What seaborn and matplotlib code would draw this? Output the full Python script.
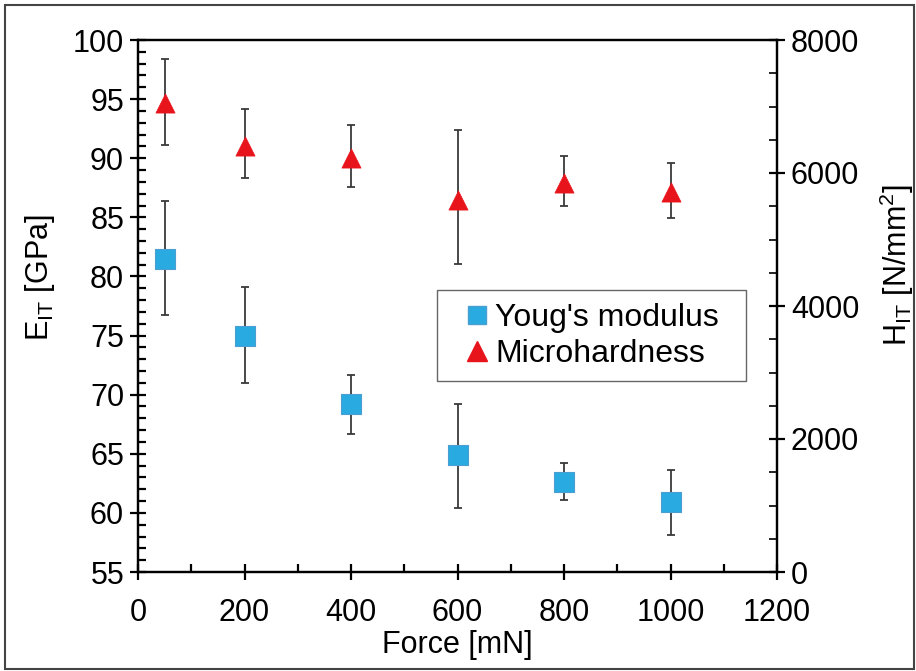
import matplotlib
matplotlib.use("Agg")
import matplotlib.pyplot as plt
import matplotlib.patches as mpatches
from matplotlib.lines import Line2D
from matplotlib.ticker import MultipleLocator
import seaborn as sns
import pandas as pd

# Measurements
force = [50, 200, 400, 600, 800, 1000]
modulus = [81.5, 75.0, 69.2, 64.9, 62.6, 60.9]
modulus_lo = [76.7, 71.0, 66.7, 60.4, 61.1, 58.1]
modulus_hi = [86.4, 79.1, 71.7, 69.2, 64.2, 63.6]
hardness = [7060, 6410, 6230, 5600, 5850, 5715]
hardness_lo = [6415, 5925, 5785, 4630, 5505, 5320]
hardness_hi = [7715, 6965, 6725, 6650, 6260, 6155]

labels = ["Youg's modulus", "Microhardness"]

sns.set_theme(style="white")
plt.rcParams["font.family"] = ["Liberation Sans", "DejaVu Sans"]
plt.rcParams["text.color"] = "black"
plt.rcParams["axes.labelcolor"] = "black"
plt.rcParams["xtick.color"] = "black"
plt.rcParams["ytick.color"] = "black"

df = pd.DataFrame({"force": force, "modulus": modulus, "hardness": hardness})

fig = plt.figure(figsize=(9.16, 6.71), dpi=100)
ax = fig.add_axes([138 / 916, 1 - 572 / 671, 639 / 916, 532 / 671])
ax2 = ax.twinx()

blue = "#29ABE2"
red = "#E8141B"
err_col = "#3a3a3a"

# Young's modulus with error bars
ax.errorbar(force, modulus,
            yerr=[[m - lo for m, lo in zip(modulus, modulus_lo)],
                  [hi - m for m, hi in zip(modulus, modulus_hi)]],
            fmt="none", ecolor=err_col, elinewidth=1.3, capsize=3, capthick=1.3, zorder=2)
sns.scatterplot(data=df, x="force", y="modulus", ax=ax, marker="s", s=205,
                color=blue, edgecolor="#4a9fd0", linewidth=0.8, zorder=3, legend=False)

# Microhardness with error bars
ax2.errorbar(force, hardness,
             yerr=[[h - lo for h, lo in zip(hardness, hardness_lo)],
                   [hi - h for h, hi in zip(hardness, hardness_hi)]],
             fmt="none", ecolor=err_col, elinewidth=1.3, capsize=3, capthick=1.3, zorder=2)
sns.scatterplot(data=df, x="force", y="hardness", ax=ax2, marker="^", s=190,
                color=red, edgecolor=red, linewidth=0.5, zorder=3, legend=False)

ax.set_xlim(0, 1200)
ax.set_ylim(55, 100)
ax2.set_ylim(0, 8000)

ax.xaxis.set_major_locator(MultipleLocator(200))
ax.xaxis.set_minor_locator(MultipleLocator(100))
ax.yaxis.set_major_locator(MultipleLocator(5))
ax.yaxis.set_minor_locator(MultipleLocator(1))
ax2.yaxis.set_major_locator(MultipleLocator(2000))
ax2.yaxis.set_minor_locator(MultipleLocator(500))

fs = 22
ax.tick_params(axis="x", which="major", direction="inout", length=12, width=1.6,
               labelsize=fs, pad=13, bottom=True, top=False)
ax.tick_params(axis="x", which="minor", direction="in", length=6, width=1.6, bottom=True, top=False)
ax.tick_params(axis="y", which="major", direction="inout", length=12, width=1.6,
               labelsize=fs, pad=4, left=True, right=False)
ax.tick_params(axis="y", which="minor", direction="in", length=6, width=1.6, left=True, right=False)
ax2.tick_params(axis="y", which="major", direction="inout", length=12, width=1.6,
                labelsize=fs, pad=4, right=True, left=False)
ax2.tick_params(axis="y", which="minor", direction="in", length=6, width=1.2, right=True, left=False)

for a in (ax, ax2):
    for s in a.spines.values():
        s.set_color("black")
        s.set_linewidth(1.6)

ax.set_xlabel("Force [mN]", fontsize=fs, labelpad=1)
ax.set_ylabel(r"E$_{\mathregular{IT}}$ [GPa]", fontsize=fs)
ax2.set_ylabel(r"H$_{\mathregular{IT}}$ [N/mm$^{\mathregular{2}}$]", fontsize=fs)
ax.yaxis.set_label_coords(-0.127, 0.553)
ax2.yaxis.set_label_coords(1.157, 0.577)

# Legend: entries without frame, with a plain box drawn around them
lfs = 23
handles = [
    Line2D([], [], linestyle="none", marker="s", markersize=13.5, color=blue,
           markeredgecolor="#4a9fd0"),
    Line2D([], [], linestyle="none", marker="^", markersize=14, color=red),
]
ax2.legend(handles, labels, loc="center left", bbox_to_anchor=(0.511, 0.4436),
           fontsize=lfs, frameon=False, handlelength=0.8, handletextpad=0.15,
           borderpad=0, labelspacing=0.2, borderaxespad=0)
ax2.add_patch(mpatches.Rectangle((0.468, 0.359), 0.4836, 0.171, transform=ax2.transAxes,
                                 fill=False, edgecolor="#666666", linewidth=1.0, zorder=5))

# Outer frame around the figure
fig.patches.append(mpatches.Rectangle((5 / 916, 2 / 671), 909 / 916, 664 / 671,
                                      transform=fig.transFigure, fill=False,
                                      edgecolor="#444444", linewidth=1.5))

fig.savefig("out.png", dpi=100)
